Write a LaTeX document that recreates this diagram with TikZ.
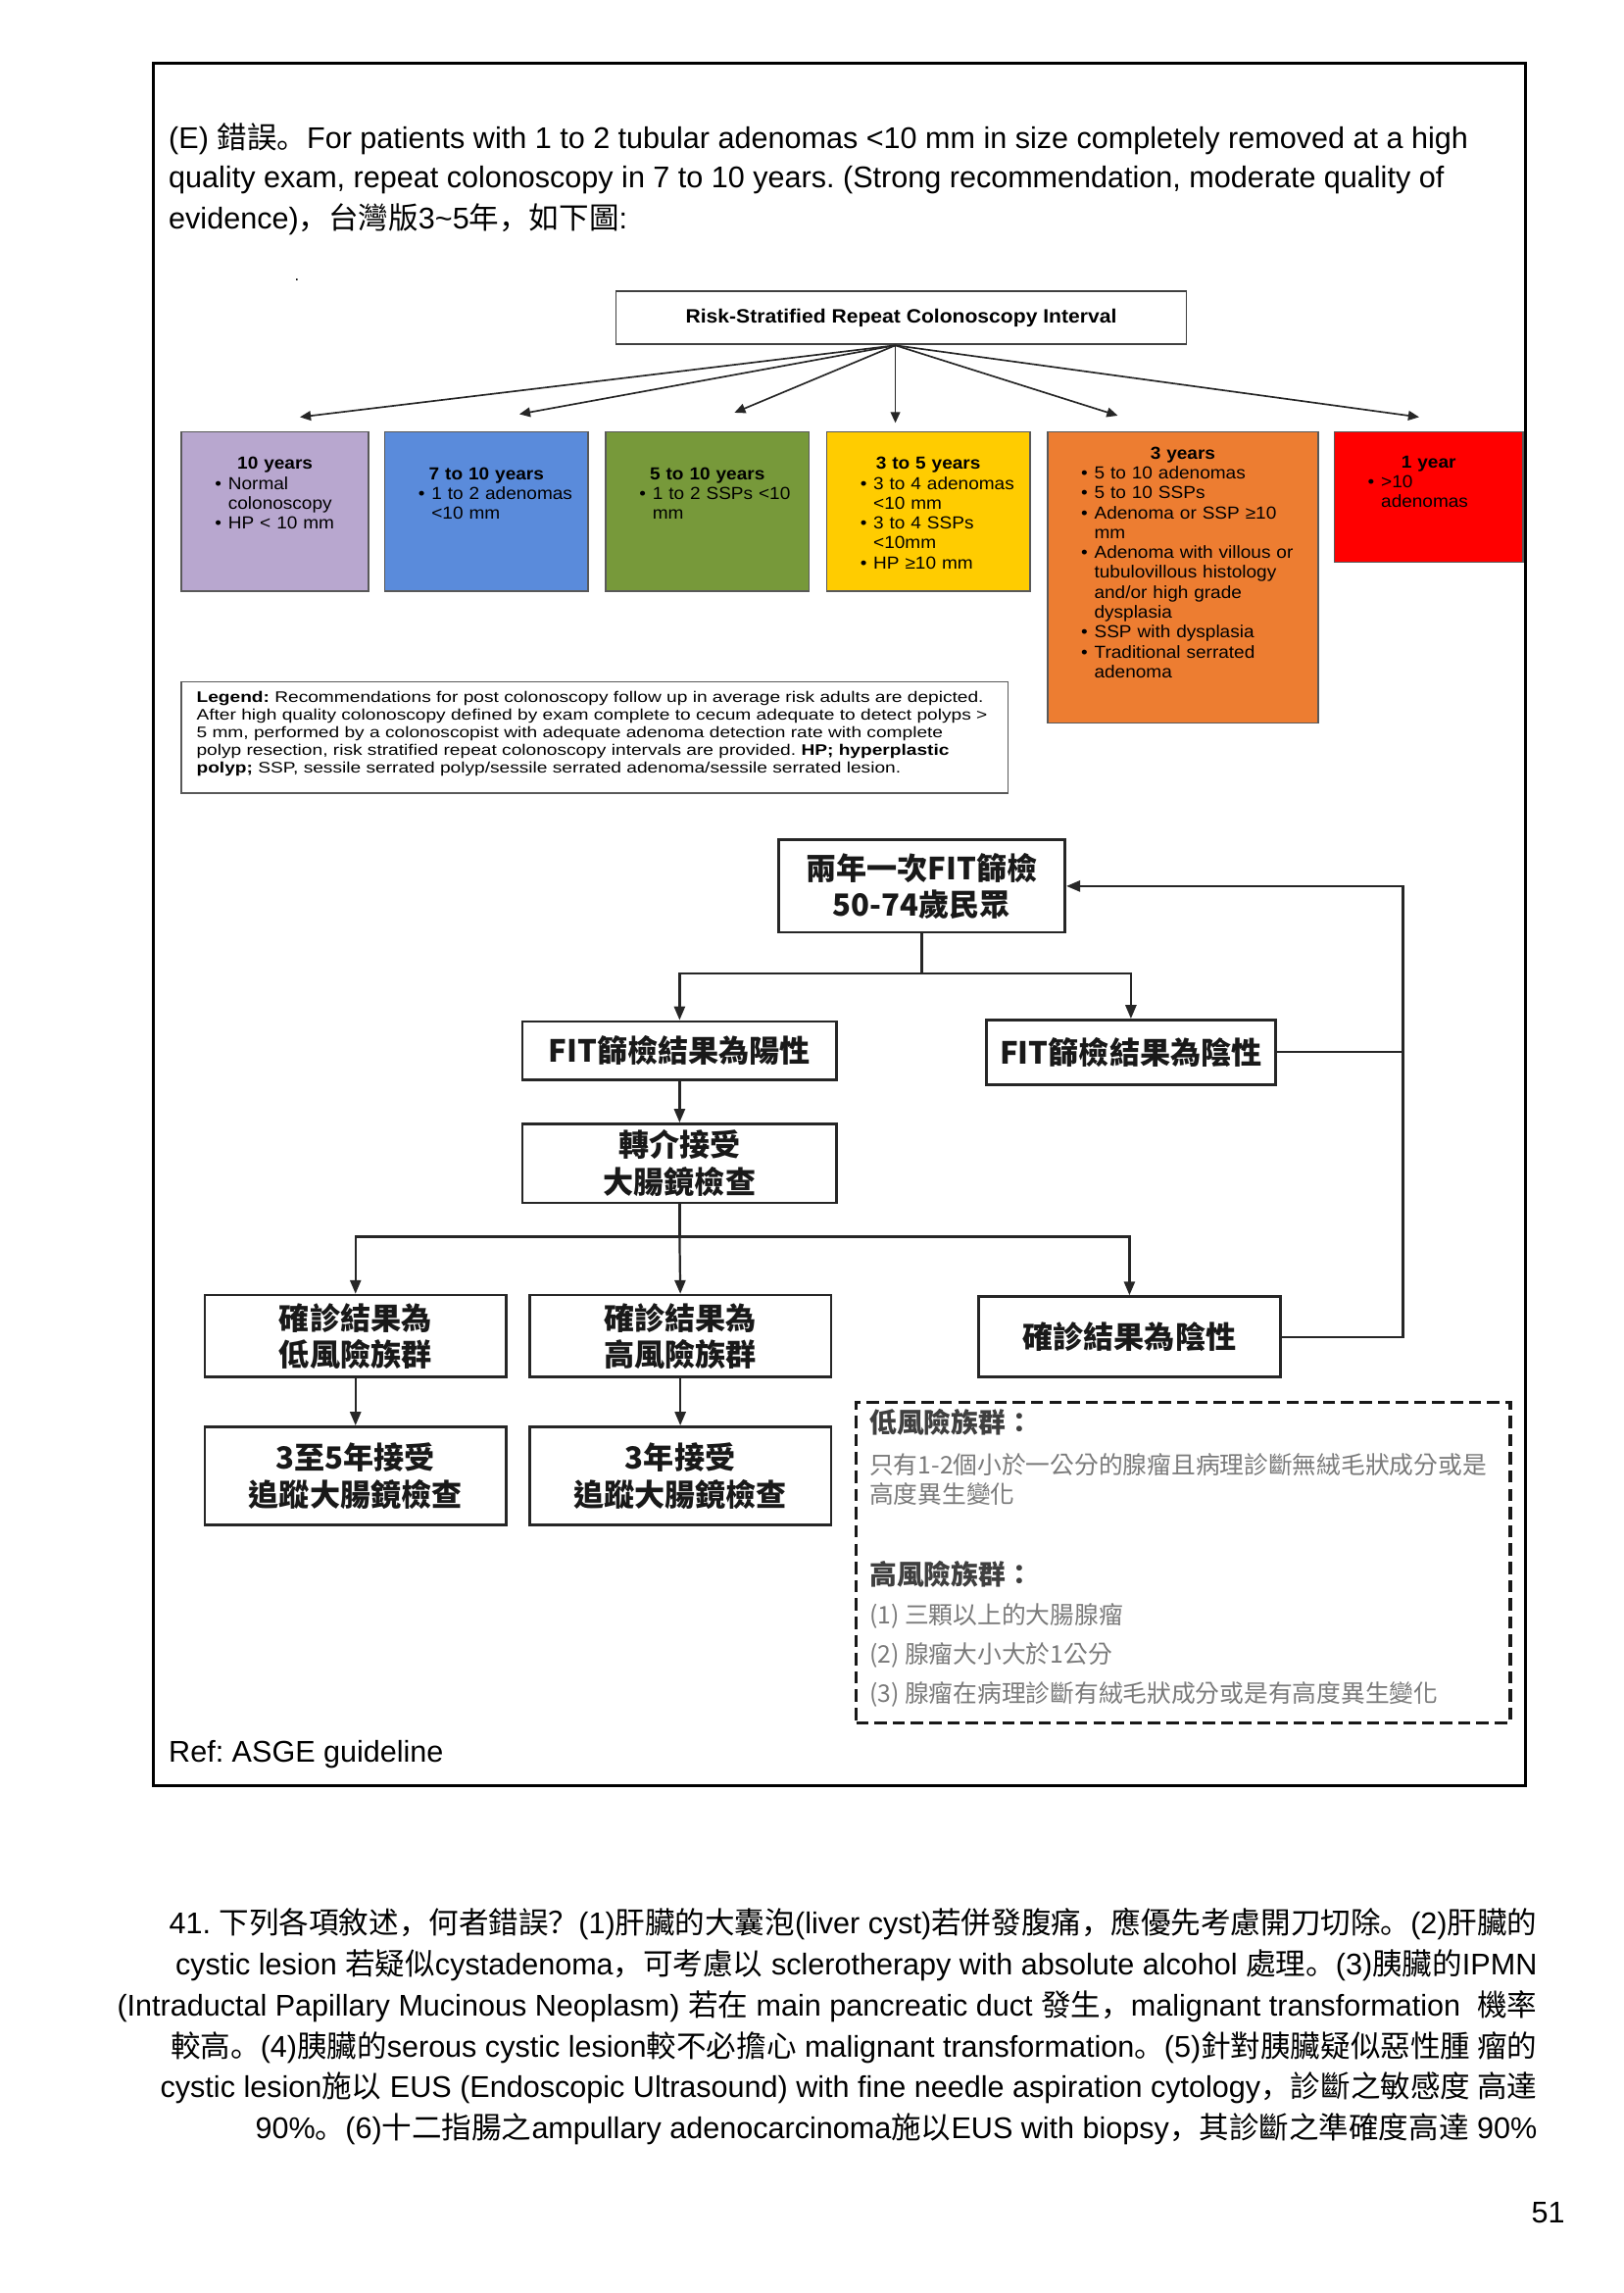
\documentclass[tikz,border=0pt]{standalone}
\usepackage{fontspec}
\setmainfont{Liberation Sans}
\newfontfamily\chartfont{Liberation Sans}[FakeStretch=1.07]
\newfontfamily\legendfont{Liberation Sans}[FakeStretch=1.23]
\newfontfamily\zh{Noto Sans CJK TC}
\newfontfamily\zhp{Noto Sans CJK SC}
\usetikzlibrary{arrows.meta, positioning}
\definecolor{BoxPurple}{HTML}{B8A7CF}
\definecolor{BoxBlue}{HTML}{5A8BDB}
\definecolor{BoxGreen}{HTML}{77993A}
\definecolor{BoxYellow}{HTML}{FFCC00}
\definecolor{BoxOrange}{HTML}{ED7D31}
\definecolor{BoxRed}{HTML}{FF0000}
\definecolor{NoteGray}{HTML}{7A7A7A}
\definecolor{NoteDark}{HTML}{3F3F3F}
\newlength{\dpx}
\setlength{\dpx}{0.5373pt}
\newcommand{\bpt}{\hspace*{23\dpx}\makebox[9\dpx][l]{\textbullet}}
\newcommand{\bnext}{\hspace*{32\dpx}}

\begin{document}
\frenchspacing
\begin{tikzpicture}[
    x=0.5373pt, y=-0.5373pt,
    % Texto de la página
    pagetext/.style={
            inner sep=0pt,
            font=\fontsize{11}{15.2}\selectfont
        },
    % Cuadro del título
    titlebox/.style={
            rectangle,
            draw=black!75,
            line width=0.6pt,
            minimum width=390\dpx,
            minimum height=36\dpx,
            font=\chartfont\bfseries\fontsize{7.1}{8}\selectfont
        },
    % Cuadros de colores
    cbox/.style={
            rectangle,
            draw=black!65,
            line width=0.5pt,
            inner sep=0pt,
            outer sep=0pt
        },
    ctext/.style={
            anchor=north,
            inner sep=0pt,
            align=left,
            text width=#1,
            font=\chartfont\fontsize{6.4}{7.3}\selectfont
        },
    % Flechas del esquema
    chartarrow/.style={
    -{Triangle[length=4pt,width=3.5pt]},
    line width=0.6pt,
    color=black!85
    },
    % Cuadros del diagrama
    flowbox/.style={
            rectangle,
            draw=black!85,
            line width=1pt,
            inner sep=0pt,
            align=center,
            text=black!90,
            font=\zh\bfseries\fontsize{11.2}{13.5}\selectfont
        },
    flowline/.style={
    line width=0.8pt,
    color=black!85
    },
    flowarrow/.style={
    flowline,
    -{Triangle[length=5pt,width=4pt]}
    },
    % Nota
    notebox/.style={
            rectangle,
            draw=black!90,
            line width=1.3pt,
            dash pattern=on 4.5pt off 2.2pt,
            minimum width=447\dpx,
            minimum height=219\dpx,
            anchor=north west
        },
    notehead/.style={
            anchor=west,
            inner sep=0pt,
            text=NoteDark,
            font=\zh\bfseries\fontsize{10}{12}\selectfont
        },
    notebody/.style={
            anchor=west,
            inner sep=0pt,
            align=left,
            text=NoteGray,
            font=\zh\fontsize{8.9}{10.8}\selectfont
        }
    ]

    \fill[white] (0,0) rectangle (1109.4,1566.9);
    \useasboundingbox (0,0) rectangle (1109.4,1566.9);

    % ========== MARCO ==========
    \draw[line width=1.1pt] (105,43) rectangle (1043,1220);

    \node[pagetext, anchor=west] (line1) at (115,95) {(E) {\zhp 錯誤。}For patients with 1 to 2 tubular adenomas <10 mm in size completely removed at a high};
    \node[pagetext, anchor=west] (line2) at (115,123) {quality exam, repeat colonoscopy in 7 to 10 years. (Strong recommendation, moderate quality of};
    \node[pagetext, anchor=west] (line3) at (115,150) {evidence){\zhp ，台灣版}3\textasciitilde 5{\zhp 年，如下圖}:};
    \node[inner sep=0pt, font=\fontsize{6}{6}\selectfont] (dot) at (203,191) {.};

    % ========== ESQUEMA ASGE ==========
    \node[titlebox] (title) at (616,217) {Risk-Stratified Repeat Colonoscopy Interval};

    \node[cbox, fill=BoxPurple, anchor=north west, minimum width=128\dpx, minimum height=109\dpx] (yr10) at (124,295) {};
    \node[cbox, fill=BoxBlue, below right=0pt and 11\dpx of yr10.north east, minimum width=139\dpx, minimum height=109\dpx] (yr7) {};
    \node[cbox, fill=BoxGreen, below right=0pt and 12\dpx of yr7.north east, minimum width=139\dpx, minimum height=109\dpx] (yr5) {};
    \node[cbox, fill=BoxYellow, below right=0pt and 12\dpx of yr5.north east, minimum width=139\dpx, minimum height=109\dpx] (yr35) {};
    \node[cbox, fill=BoxOrange, below right=0pt and 12\dpx of yr35.north east, minimum width=185\dpx, minimum height=199\dpx] (yr3) {};
    \node[cbox, fill=BoxRed, below right=0pt and 11\dpx of yr3.north east, minimum width=129\dpx, minimum height=89\dpx] (yr1) {};

    \node[ctext=128\dpx, yshift=-17\dpx] (yr10txt) at (yr10.north) {{\centering\textbf{10 years}\par}\bpt Normal\\ \bnext colonoscopy\\ \bpt HP < 10 mm};
    \node[ctext=139\dpx, yshift=-24\dpx] (yr7txt) at (yr7.north) {{\centering\textbf{7 to 10 years}\par}\bpt 1 to 2 adenomas\\ \bnext <10 mm};
    \node[ctext=139\dpx, yshift=-24\dpx] (yr5txt) at (yr5.north) {{\centering\textbf{5 to 10 years}\par}\bpt 1 to 2 SSPs <10\\ \bnext mm};
    \node[ctext=139\dpx, yshift=-17\dpx] (yr35txt) at (yr35.north) {{\centering\textbf{3 to 5 years}\par}\bpt 3 to 4 adenomas\\ \bnext <10 mm\\ \bpt 3 to 4 SSPs\\ \bnext <10mm\\ \bpt HP ≥10 mm};
    \node[ctext=185\dpx, yshift=-10\dpx] (yr3txt) at (yr3.north) {{\centering\textbf{3 years}\par}\bpt 5 to 10 adenomas\\ \bpt 5 to 10 SSPs\\ \bpt Adenoma or SSP ≥10\\ \bnext mm\\ \bpt Adenoma with villous or\\ \bnext tubulovillous histology\\ \bnext and/or high grade\\ \bnext dysplasia\\ \bpt SSP with dysplasia\\ \bpt Traditional serrated\\ \bnext adenoma};
    \node[ctext=129\dpx, yshift=-16\dpx] (yr1txt) at (yr1.north) {{\centering\textbf{1 year}\par}\bpt >10\\ \bnext adenomas};

    % Flechas del título
    \coordinate (hub) at (612,236);
    \coordinate (to10) at (205,285);
    \coordinate (to7) at (355,283);
    \coordinate (to5) at (502,282);
    \coordinate (to35) at (612,289);
    \coordinate (to3) at (764,284);
    \coordinate (to1) at (970,285);
    \foreach \tgt in {to10,to7,to5,to35,to3,to1}
    \draw[chartarrow] (hub) -- (\tgt);

    % Leyenda
    \node[cbox, anchor=north west, minimum width=565\dpx, minimum height=76\dpx] (legend) at (124,466) {};
    \node[inner sep=0pt, align=left, font=\legendfont\fontsize{5.6}{6.5}\selectfont, below right=6\dpx and 10\dpx of legend.north west] (legendtxt) {\textbf{Legend:} Recommendations for post colonoscopy follow up in average risk adults are depicted.\\
        After high quality colonoscopy defined by exam complete to cecum adequate to detect polyps >\\
        5 mm, performed by a colonoscopist with adequate adenoma detection rate with complete\\
        polyp resection, risk stratified repeat colonoscopy intervals are provided. \textbf{HP; hyperplastic}\\
        \textbf{polyp;} SSP, sessile serrated polyp/sessile serrated adenoma/sessile serrated lesion.};

    % ========== DIAGRAMA FIT ==========
    \node[flowbox, minimum width=196\dpx, minimum height=63\dpx] (fit) at (630,605.5) {兩年一次FIT篩檢\\50-74歲民眾};
    \node[flowbox, minimum width=215\dpx, minimum height=40\dpx] (pos) at (464.5,718) {FIT篩檢結果為陽性};
    \node[flowbox, minimum width=198\dpx, minimum height=44\dpx] (neg) at (773,719) {FIT篩檢結果為陰性};
    \node[flowbox, minimum width=215\dpx, minimum height=54\dpx] (refer) at (464.5,795) {轉介接受\\大腸鏡檢查};
    \node[flowbox, minimum width=206\dpx, minimum height=56\dpx] (low) at (243,913) {確診結果為\\低風險族群};
    \node[flowbox, minimum width=206\dpx, minimum height=56\dpx] (high) at (465,913) {確診結果為\\高風險族群};
    \node[flowbox, minimum width=206\dpx, minimum height=55\dpx] (dneg) at (772,913.5) {確診結果為陰性};
    \node[flowbox, minimum width=206\dpx, minimum height=67\dpx] (fu5) at (243,1008.5) {3至5年接受\\追蹤大腸鏡檢查};
    \node[flowbox, minimum width=206\dpx, minimum height=67\dpx] (fu3) at (465,1008.5) {3年接受\\追蹤大腸鏡檢查};

    % Flechas del diagrama
    \coordinate (split1) at (630,665);
    \coordinate (split2) at (464.5,845);
    \coordinate (back) at (959,913.5);
    \draw[flowline] (fit.south) -- (split1);
    \draw[flowarrow] (split1) -| (pos.north);
    \draw[flowarrow] (split1) -| (neg.north);
    \draw[flowarrow] (pos.south) -- (refer.north);
    \draw[flowline] (refer.south) -- (split2);
    \draw[flowarrow] (split2) -| (low.north);
    \draw[flowarrow] (split2) -- (high.north);
    \draw[flowarrow] (split2) -| (dneg.north);
    \draw[flowarrow] (low.south) -- (fu5.north);
    \draw[flowarrow] (high.south) -- (fu3.north);
    \draw[flowarrow] (dneg.east) -- (back) |- (fit.east);
    \draw[flowline] (neg.east) -- (neg.east -| back);

    % Nota de riesgo
    \node[notebox] (note) at (584,957) {};
    \node[notehead] (lowhead) at (594,972) {低風險族群：};
    \node[notebody] (lowbody) at (594,1011) {只有1-2個小於一公分的腺瘤且病理診斷無絨毛狀成分或是\\高度異生變化};
    \node[notehead] (highhead) at (594,1076) {高風險族群：};
    \node[notebody] (high1) at (594,1104) {(1) 三顆以上的大腸腺瘤};
    \node[notebody] (high2) at (594,1131) {(2) 腺瘤大小大於1公分};
    \node[notebody] (high3) at (594,1158) {(3) 腺瘤在病理診斷有絨毛狀成分或是有高度異生變化};

    \node[pagetext, anchor=west] (ref) at (115,1199) {Ref: ASGE guideline};

    % ========== PREGUNTA 41 ==========
    \node[pagetext, anchor=east] (q1) at (1051,1315) {41. {\zhp 下列各項敘述，何者錯誤？}(1){\zhp 肝臟的大囊泡}(liver cyst){\zhp 若併發腹痛，應優先考慮開刀切除。}(2){\zhp 肝臟的}};
    \node[pagetext, anchor=east] (q2) at (1051,1343) {cystic lesion {\zhp 若疑似}cystadenoma{\zhp ，可考慮以} sclerotherapy with absolute alcohol {\zhp 處理。}(3){\zhp 胰臟的}IPMN};
    \node[pagetext, anchor=east] (q3) at (1051,1371) {(Intraductal Papillary Mucinous Neoplasm) {\zhp 若在} main pancreatic duct {\zhp 發生，}malignant transformation\ \ {\zhp 機率}};
    \node[pagetext, anchor=east] (q4) at (1051,1399) {{\zhp 較高。}(4){\zhp 胰臟的}serous cystic lesion{\zhp 較不必擔心} malignant transformation{\zhp 。}(5){\zhp 針對胰臟疑似惡性腫 瘤的}};
    \node[pagetext, anchor=east] (q5) at (1051,1427) {cystic lesion{\zhp 施以} EUS (Endoscopic Ultrasound) with fine needle aspiration cytology{\zhp ，診斷之敏感度 高達}};
    \node[pagetext, anchor=east] (q6) at (1051,1455) {90\%{\zhp 。}(6){\zhp 十二指腸之}ampullary adenocarcinoma{\zhp 施以}EUS with biopsy{\zhp ，其診斷之準確度高達} 90\%};

    \node[pagetext, anchor=east] (pagenum) at (1070,1512) {51};

\end{tikzpicture}
\end{document}
